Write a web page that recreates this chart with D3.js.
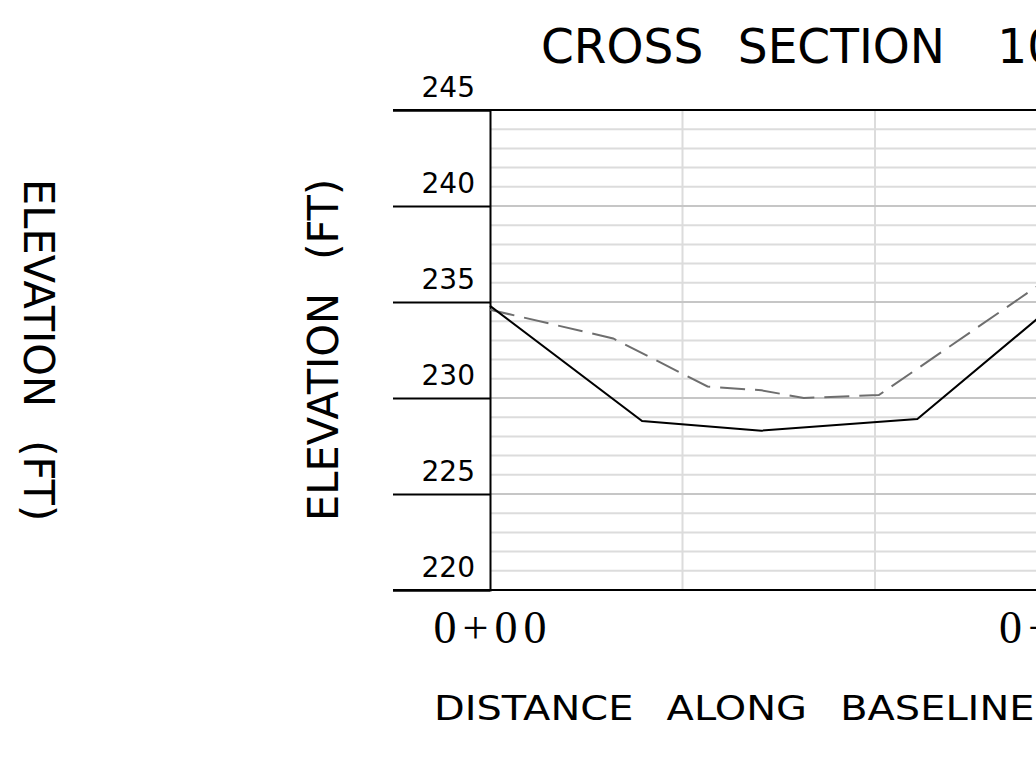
<!DOCTYPE html>
<html><head><meta charset="utf-8">
<script src="https://cdn.jsdelivr.net/npm/d3@7"></script>
<style>html,body{margin:0;padding:0;background:#fff;overflow:hidden}</style>
</head><body><svg id="c" width="1036" height="761"></svg>
<script>
const titleWords = ["CROSS SECTION", "10"];
const xAxisTitle = "DISTANCE ALONG BASELINE";
const yAxisTitle = "ELEVATION (FT)";
const elevTicks = [220, 225, 230, 235, 240, 245];
const gridStations = [0, 10, 20, 30];
const stationTicks = [0, 30];
const stationLabels = ["0+00", "0+30"];
const existingDist = [0, 7.9, 14.1, 22.2, 28.4];
const existingElev = [234.8, 228.8, 228.3, 228.9, 234.1];
const proposedDist = [0, 6.4, 11.3, 14.1, 16.3, 20.2, 28.4];
const proposedElev = [234.6, 233.1, 230.6, 230.4, 230.0, 230.15, 235.8];

const svg = d3.select("#c");
const W = 1036;
const x = d3.scaleLinear().domain([0, 30]).range([490, 1067.5]);
const y = d3.scaleLinear().domain([220, 245]).range([590, 110]);
const leftX = 393;
const sans = "'DejaVu Sans', Verdana, sans-serif";

// minor horizontal grid (every foot)
const minor = d3.range(221, 245).filter(v => !elevTicks.includes(v));
svg.append("g").selectAll("line").data(minor).join("line")
  .attr("x1", x(0)).attr("x2", W).attr("y1", d => y(d)).attr("y2", d => y(d))
  .attr("stroke", "#dcdcdc").attr("stroke-width", 2);
// vertical grid
svg.append("g").selectAll("line").data(gridStations.filter(d => d > 0)).join("line")
  .attr("x1", d => x(d)).attr("x2", d => x(d)).attr("y1", y(245)).attr("y2", y(220))
  .attr("stroke", "#dcdcdc").attr("stroke-width", 2);
// major interior lines
svg.append("g").selectAll("line").data(elevTicks.filter(v => v > 220 && v < 245)).join("line")
  .attr("x1", x(0)).attr("x2", W).attr("y1", d => y(d)).attr("y2", d => y(d))
  .attr("stroke", "#c6c6c6").attr("stroke-width", 2);
// top & bottom frame
svg.append("g").selectAll("line").data([220, 245]).join("line")
  .attr("x1", leftX).attr("x2", W).attr("y1", d => y(d)).attr("y2", d => y(d))
  .attr("stroke", "#000").attr("stroke-width", 2);

// y axis with ticks extending left
const yAxis = d3.axisLeft(y).tickValues(elevTicks).tickSize(x(0) - leftX).tickFormat(d => d);
const gy = svg.append("g").attr("transform", `translate(${x(0)},0)`).call(yAxis);
gy.select(".domain").attr("stroke", "#000").attr("stroke-width", 2);
gy.selectAll(".tick line").attr("stroke", "#000").attr("stroke-width", 2);
gy.selectAll(".tick text").attr("x", -15).attr("dy", -14).attr("text-anchor", "end")
  .attr("font-family", sans).attr("font-size", 28).attr("fill", "#000");

// station labels
svg.append("g").selectAll("text").data(stationTicks).join("text")
  .attr("x", (d, i) => x(d) + (i === 0 ? 3 : -9)).attr("y", 643).attr("text-anchor", "middle")
  .attr("font-family", "'Liberation Serif', 'Times New Roman', serif").attr("font-size", 46)
  .attr("letter-spacing", 6).attr("fill", "#000")
  .text((d, i) => stationLabels[i]);

// profiles
const line = d3.line().x(d => x(d[0])).y(d => y(d[1]));
svg.append("path").datum(proposedDist.map((d, i) => [d, proposedElev[i]]))
  .attr("d", line).attr("fill", "none").attr("stroke", "#6e6e6e").attr("stroke-width", 2)
  .attr("stroke-dasharray", "25,10");
svg.append("path").datum(existingDist.map((d, i) => [d, existingElev[i]]))
  .attr("d", line).attr("fill", "none").attr("stroke", "#000").attr("stroke-width", 2);

// titles
const t = svg.append("text").attr("transform", "translate(541,63) scale(0.98,1)")
  .attr("font-family", sans).attr("font-size", 48).attr("word-spacing", 20).attr("fill", "#000");
t.append("tspan").text(titleWords[0] + " ");
t.append("tspan").attr("dx", 18).text(titleWords[1]);
svg.append("text").attr("transform", "translate(434,720) scale(1.21,1)")
  .attr("font-family", sans).attr("font-size", 33).attr("word-spacing", 17).attr("fill", "#000")
  .text(xAxisTitle);
svg.append("text").attr("transform", "translate(24,179) rotate(90) scale(0.99,1)")
  .attr("font-family", sans).attr("font-size", 42).attr("word-spacing", 20).attr("fill", "#000")
  .text(yAxisTitle);
svg.append("text").attr("transform", "translate(338,521) rotate(-90) scale(0.99,1)")
  .attr("font-family", sans).attr("font-size", 42).attr("word-spacing", 20).attr("fill", "#000")
  .text(yAxisTitle);
</script></body></html>
